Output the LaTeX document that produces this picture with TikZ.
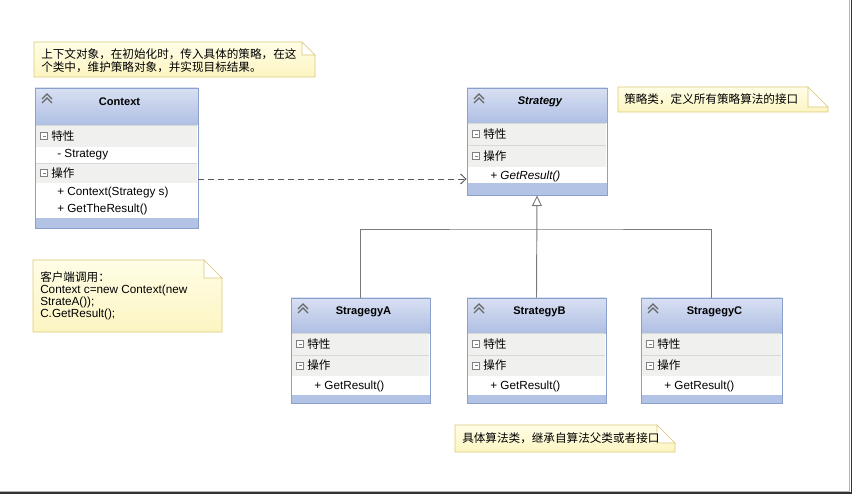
\documentclass[tikz,border=0pt]{standalone}
\usepackage{fontspec}
\setmainfont{Liberation Sans}
\newfontfamily\cjk{Noto Sans CJK SC}
\usetikzlibrary{arrows.meta,positioning,fit}
\definecolor{frameblue}{HTML}{8A9FCB}
\definecolor{headtop}{HTML}{D8E0F3}
\definecolor{headbot}{HTML}{AFBFE3}
\definecolor{bandblue}{HTML}{B3C3E6}
\definecolor{rowgray}{HTML}{F0F0EE}
\definecolor{rowline}{HTML}{D8D8D8}
\definecolor{notetop}{HTML}{FFFDE6}
\definecolor{notebot}{HTML}{FCF5C2}
\definecolor{noteline}{HTML}{DCC878}
\definecolor{linkgray}{HTML}{7A7A7A}
\newcommand{\diagfont}{\fontsize{8.8}{9.2}\selectfont}
\newcommand{\hanfont}{\fontsize{8.7}{9.75}\selectfont}

% class frame, header and bottom band
\newcommand{\classbox}[8]{%
  \fill[white] (#2,#3) rectangle (#4,#5);
  \shade[top color=headtop, bottom color=headbot] (#2,#3) rectangle (#4,#6);
  \fill[bandblue] (#2,#7) rectangle (#4,#5);
  \draw[chevron] ({#2+7},{#3+11}) -- ({#2+12},{#3+6}) -- ({#2+17},{#3+11})
                 ({#2+7},{#3+15}) -- ({#2+12},{#3+10}) -- ({#2+17},{#3+15});
  \node[classtitle] (#1-title) at ({(#2+#4)/2+3},{#3+14}) {#8};
  \node[classframe, fit={(#2,#3) (#4,#5)}] (#1) {};
}
% collapsible section row
\newcommand{\secrow}[6]{%
  \fill[rowgray] ({#2+0.7},#4) rectangle ({#3-0.7},#5);
  \draw[rowline] ({#2+0.7},#4) -- ({#3-0.7},#4);
  \draw[iconbox] ({#2+5.5},{(#4+#5)/2-3.5}) rectangle ({#2+12.5},{(#4+#5)/2+3.5});
  \draw[iconbox] ({#2+7.5},{(#4+#5)/2}) -- ({#2+10.5},{(#4+#5)/2});
  \node[seclabel] (#1) at ({#2+16},{(#4+#5)/2}) {#6};
}
% comment with folded corner
\newcommand{\notebox}[6]{%
  \shadedraw[top color=notetop, bottom color=notebot, draw=noteline]
    (#2,#3) -- ({#4-#6},#3) -- (#4,{#3+#6}) -- (#4,#5) -- (#2,#5) -- cycle;
  \filldraw[fill=white, draw=noteline] ({#4-#6},#3) -- ({#4-#6},{#3+#6}) -- (#4,{#3+#6}) -- cycle;
  \node[inner sep=0pt, fit={(#2,#3) (#4,#5)}] (#1) {};
}

\begin{document}
\begin{tikzpicture}[
  x=0.75pt, y=-0.75pt,
  classframe/.style={draw=frameblue, line width=0.65pt, inner sep=0pt},
  classtitle/.style={inner sep=0pt, font=\fontsize{8.3}{10}\selectfont\bfseries},
  classmember/.style={anchor=west, inner sep=0pt, font=\diagfont},
  seclabel/.style={anchor=west, inner sep=0pt, font=\cjk\hanfont},
  chevron/.style={draw=black!60, line width=0.9pt},
  iconbox/.style={draw=black!50, fill=white, line width=0.5pt},
  notetext/.style={inner sep=0pt, align=left},
  depend/.style={-{Straight Barb[length=4pt,width=7.5pt]}, draw=black!65, line width=0.7pt, dash pattern=on 4.5pt off 3pt},
  generalize/.style={draw=linkgray, line width=0.7pt}
]
\useasboundingbox (0,0) rectangle (853,495);
\draw[black!30, line width=0.6pt] (849.5,0) -- (849.5,491) -- (0,491);
\draw[black!80, line width=1.4pt] (851.5,0) -- (851.5,493) -- (0,493);

\notebox{note-ctx}{34}{42}{315}{77}{13}
\node[notetext, anchor=north west, font=\cjk\hanfont] (note-ctx-text) at (41,48)
  {上下文对象，在初始化时，传入具体的策略，在这\\个类中，维护策略对象，并实现目标结果。};

\notebox{note-strat}{618}{87}{828}{112}{20}
\node[notetext, anchor=west, font=\cjk\hanfont] (note-strat-text) at (624,99.5) {策略类，定义所有策略算法的接口};

\notebox{note-client}{33}{260}{222}{332}{18}
\node[notetext, anchor=north west, font=\diagfont] (note-client-text) at (40,271)
  {{\cjk\hanfont 客户端调用：}\\Context c=new Context(new\\StrateA());\\C.GetResult();};

\notebox{note-sub}{455}{425}{675}{452}{18}
\node[notetext, anchor=west, font=\cjk\hanfont] (note-sub-text) at (462,438) {具体算法类，继承自算法父类或者接口};

\classbox{ctx}{35}{88}{198}{228}{125}{218}{Context}
\secrow{ctx-attr}{35}{198}{125}{147}{特性}
\node[classmember] (ctx-a1) at (57,155) {- Strategy};
\secrow{ctx-ops}{35}{198}{163}{183}{操作}
\node[classmember] (ctx-m1) at (57,192) {+ Context(Strategy s)};
\node[classmember] (ctx-m2) at (57,209) {+ GetTheResult()};

\classbox{strat}{467}{88}{607}{195}{123}{183}{\itshape Strategy}
\secrow{strat-attr}{467}{607}{123}{145}{特性}
\secrow{strat-ops}{467}{607}{145}{167}{操作}
\node[classmember, font=\diagfont\itshape] (strat-m1) at (490,176) {+ GetResult()};

\classbox{stratA}{291}{298}{430}{403}{333}{395}{StragegyA}
\secrow{stratA-attr}{291}{430}{333}{355}{特性}
\secrow{stratA-ops}{291}{430}{355}{376}{操作}
\node[classmember] (stratA-m1) at (314,386) {+ GetResult()};

\classbox{stratB}{467}{298}{606}{403}{333}{395}{StrategyB}
\secrow{stratB-attr}{467}{606}{333}{355}{特性}
\secrow{stratB-ops}{467}{606}{355}{376}{操作}
\node[classmember] (stratB-m1) at (490,386) {+ GetResult()};

\classbox{stratC}{641}{298}{782}{403}{333}{395}{StragegyC}
\secrow{stratC-attr}{641}{782}{333}{355}{特性}
\secrow{stratC-ops}{641}{782}{355}{376}{操作}
\node[classmember] (stratC-m1) at (664,386) {+ GetResult()};

\coordinate (join) at (537,229);
\draw[depend] (ctx.east |- 0,179) -- (strat.west |- 0,179);
\draw[generalize] (stratA.north) |- (join) -| (stratC.north);
\draw[generalize, -{Triangle[open, length=8pt, width=7.5pt]}] (stratB.north) -- (strat.south);
\end{tikzpicture}
\end{document}
